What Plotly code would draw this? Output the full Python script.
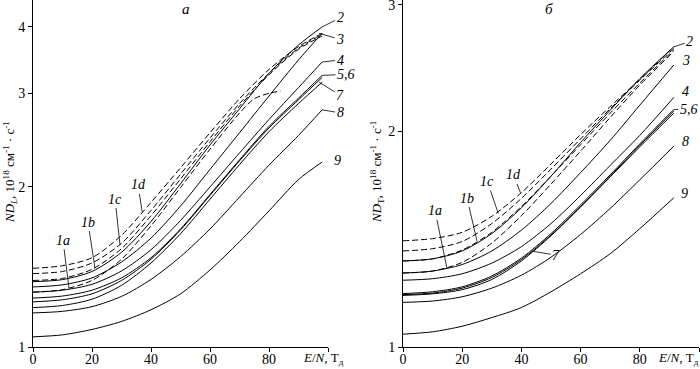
import numpy as np
import plotly.graph_objects as go

# ---------------- data ----------------
# panel а : N*D_L, 10^18 cm^-1 s^-1  vs  E/N, Td
x_a = [0, 10, 20, 30, 40, 50, 60, 70, 80, 90, 98]
x_a_1a = [0, 10, 20, 30, 40, 50, 60, 70, 75, 80, 84]
a_1a = [1.268, 1.282, 1.334, 1.462, 1.690, 1.995, 2.355, 2.754, 2.930, 3.000, 3.030]
a_1b = [1.334, 1.346, 1.400, 1.531, 1.766, 2.070, 2.432, 2.838, 3.251, 3.631, 3.846]
a_1c = [1.374, 1.387, 1.439, 1.567, 1.807, 2.113, 2.472, 2.871, 3.273, 3.648, 3.873]
a_1d = [1.406, 1.422, 1.472, 1.622, 1.871, 2.173, 2.529, 2.931, 3.327, 3.673, 3.890]
a_2 = [1.327, 1.339, 1.387, 1.507, 1.722, 2.028, 2.399, 2.805, 3.273, 3.698, 4.000]
a_3 = [1.297, 1.309, 1.349, 1.445, 1.603, 1.841, 2.158, 2.529, 2.965, 3.467, 3.890]
a_4 = [1.268, 1.279, 1.312, 1.390, 1.524, 1.730, 2.000, 2.317, 2.679, 3.076, 3.436]
a_5 = [1.236, 1.247, 1.279, 1.349, 1.472, 1.667, 1.936, 2.249, 2.600, 2.938, 3.243]
a_6 = [1.216, 1.227, 1.259, 1.334, 1.462, 1.660, 1.928, 2.239, 2.582, 2.917, 3.214]
a_7 = [1.186, 1.197, 1.230, 1.306, 1.439, 1.633, 1.897, 2.203, 2.541, 2.871, 3.148]
a_8 = [1.159, 1.167, 1.191, 1.245, 1.340, 1.479, 1.667, 1.914, 2.198, 2.500, 2.793]
a_9 = [1.045, 1.054, 1.079, 1.117, 1.175, 1.259, 1.396, 1.578, 1.803, 2.065, 2.228]

# panel б : N*D_T
x_b = [0, 10, 20, 30, 40, 50, 60, 70, 80, 91.5]
b_1a = [1.268, 1.276, 1.312, 1.396, 1.524, 1.687, 1.875, 2.089, 2.317, 2.582]
b_1b = [1.318, 1.327, 1.365, 1.445, 1.570, 1.730, 1.914, 2.118, 2.333, 2.594]
b_1c = [1.361, 1.371, 1.403, 1.486, 1.611, 1.770, 1.950, 2.148, 2.355, 2.606]
b_1d = [1.406, 1.416, 1.445, 1.521, 1.641, 1.799, 1.977, 2.163, 2.360, 2.621]
b_2 = [1.318, 1.327, 1.361, 1.439, 1.563, 1.730, 1.928, 2.138, 2.366, 2.621]
b_3 = [1.268, 1.276, 1.303, 1.361, 1.455, 1.585, 1.750, 1.941, 2.173, 2.472]
b_4 = [1.239, 1.245, 1.265, 1.309, 1.380, 1.486, 1.626, 1.791, 1.972, 2.228]
b_5 = [1.187, 1.194, 1.213, 1.256, 1.330, 1.439, 1.578, 1.738, 1.919, 2.143]
b_6 = [1.183, 1.189, 1.208, 1.250, 1.324, 1.432, 1.570, 1.730, 1.910, 2.133]
b_7 = [1.180, 1.186, 1.202, 1.242, 1.318, 1.429, 1.567, 1.726, 1.901, 2.118]
b_8 = [1.154, 1.159, 1.175, 1.208, 1.259, 1.334, 1.435, 1.560, 1.710, 1.905]
b_9 = [1.042, 1.050, 1.069, 1.099, 1.135, 1.194, 1.265, 1.349, 1.462, 1.614]

x_ticks = [0, 20, 40, 60, 80, 100]
x_ticktext = ["0", "20", "40", "60", "80", " "]
ya_ticks = [1, 2, 3, 4]
yb_ticks = [1, 2, 3]

# ---------------- figure ----------------
W, H = 700, 369
SERIF = "Liberation Serif, Times New Roman, serif"
fig = go.Figure()

def add(x, y, dashed, xa, ya):
    fig.add_trace(go.Scatter(
        x=x, y=y, mode="lines", xaxis=xa, yaxis=ya, showlegend=False,
        line=dict(color="black", width=1, shape="spline", smoothing=0.8,
                  dash="6px,3px" if dashed else "solid"),
        hoverinfo="skip"))

add(x_a_1a, a_1a, True, "x", "y")
for ys in [a_1b, a_1c, a_1d]:
    add(x_a, ys, True, "x", "y")
for ys in [a_2, a_3, a_4, a_5, a_6, a_7, a_8, a_9]:
    add(x_a, ys, False, "x", "y")
for ys in [b_1a, b_1b, b_1c, b_1d]:
    add(x_b, ys, True, "x2", "y2")
for ys in [b_2, b_3, b_4, b_5, b_6, b_7, b_8, b_9]:
    add(x_b, ys, False, "x2", "y2")

axfont = dict(family=SERIF, size=14, color="black")
common_x = dict(range=[0, 100], tickvals=x_ticks, ticktext=x_ticktext,
                showline=True, linecolor="black", linewidth=1, ticks="outside",
                ticklen=4, tickcolor="black", showgrid=False, zeroline=False,
                tickfont=axfont, automargin=False, ticklabelstandoff=-5)
common_y = dict(type="log", showline=True, linecolor="black", linewidth=1,
                ticks="outside", ticklen=4, tickcolor="black", showgrid=False,
                zeroline=False, tickfont=axfont, automargin=False,
                ticklabeloverflow="allow")

fig.update_layout(
    width=W, height=H, margin=dict(l=0, r=0, t=0, b=0),
    paper_bgcolor="white", plot_bgcolor="white",
    xaxis=dict(domain=[33 / W, 328 / W], anchor="y", **common_x),
    yaxis=dict(domain=[22 / H, 1], anchor="x", range=[0, 0.6527],
               tickvals=ya_ticks, ticktext=[str(v) for v in ya_ticks], **common_y),
    xaxis2=dict(domain=[403 / W, 699 / W], anchor="y2", **common_x),
    yaxis2=dict(domain=[22 / H, 1], anchor="x2", range=[0, 0.4836],
                tickvals=yb_ticks, ticktext=[str(v) for v in yb_ticks], **common_y),
)

ann = []
lab_font = dict(family=SERIF, size=14, color="black")

def label(text, xref, yref, x, y, ax, ay, arrow=True):
    ann.append(dict(text="<i>%s</i>" % text, xref=xref, yref=yref, x=x,
                    y=float(np.log10(y)), ax=ax, ay=ay, showarrow=arrow,
                    arrowhead=0, arrowwidth=0.8, arrowcolor="black",
                    font=lab_font, standoff=0, startstandoff=0))

def lab_free(text, xref, yref, x, y, xs, ys):
    ann.append(dict(text="<i>%s</i>" % text, xref=xref, yref=yref, x=x,
                    y=float(np.log10(y)), xshift=xs, yshift=ys,
                    showarrow=False, font=lab_font))

def paper_text(text, px, py, size=14, angle=0):
    ann.append(dict(text=text, xref="paper", yref="paper", x=px / W, y=1 - py / H,
                    xanchor="center", yanchor="middle", textangle=angle,
                    showarrow=False, font=dict(family=SERIF, size=size, color="black")))

# panel а labels
label("2", "x", "y", x_a[-1], a_2[-1], 18, -9)
label("3", "x", "y", x_a[-1] - 1, a_3[-1], 21, 6)
label("4", "x", "y", x_a[-1], a_4[-1], 18, -2)
label("5,6", "x", "y", x_a[-1], a_5[-1], 24, -1)
label("7", "x", "y", x_a[-1] - 1, a_7[-1], 21, 13)
label("8", "x", "y", x_a[-1], a_8[-1], 18, 3)
lab_free("9", "x", "y", x_a[-1], a_9[-1], 15, 2)
label("1a", "x", "y", 12.2, 1.290, -6, -48)
label("1b", "x", "y", 21, 1.408, -7, -46)
label("1c", "x", "y", 29.5, 1.555, -5, -46)
label("1d", "x", "y", 37, 1.795, -4, -27)

# panel б labels
label("2", "x2", "y2", x_b[-1], b_2[-1], 16, -5)
lab_free("3", "x2", "y2", x_b[-1], b_3[-1], 12, 4)
lab_free("4", "x2", "y2", x_b[-1], b_4[-1], 12, 6)
label("5,6", "x2", "y2", x_b[-1], b_5[-1], 15, 0)
lab_free("8", "x2", "y2", x_b[-1], b_8[-1], 12, 5)
lab_free("9", "x2", "y2", x_b[-1], b_9[-1], 11, 4)
label("7", "x2", "y2", 43.7, 1.36, 24, 4)
label("1a", "x2", "y2", 14.9, 1.285, -12, -58)
label("1b", "x2", "y2", 25, 1.405, -10, -43)
label("1c", "x2", "y2", 32.2, 1.535, -11, -32)
label("1d", "x2", "y2", 39.7, 1.64, -7, -18)

# panel letters
paper_text("<i>а</i>", 186, 9, size=15)
paper_text("<i>б</i>", 549, 9, size=15)

# x-axis titles
paper_text("<i>E</i>/<i>N</i>, Т<sub>д</sub>", 323, 358, size=13)
paper_text("<i>E</i>/<i>N</i>, Т<sub>д</sub>", 678, 358, size=13)

# y-axis titles
paper_text("<i>ND</i><sub><i>L</i></sub>, 10<sup>18</sup> см<sup>-1</sup> · с<sup>-1</sup>",
           10, 172, size=13, angle=-90)
paper_text("<i>ND</i><sub>T</sub>, 10<sup>18</sup> см<sup>-1</sup> · с<sup>-1</sup>",
           377, 172, size=13, angle=-90)

fig.update_layout(annotations=ann)
fig.write_html(
    "out.html",
    config={"displayModeBar": False},
    post_script="document.body.style.margin='0';document.body.style.overflow='hidden';",
)
